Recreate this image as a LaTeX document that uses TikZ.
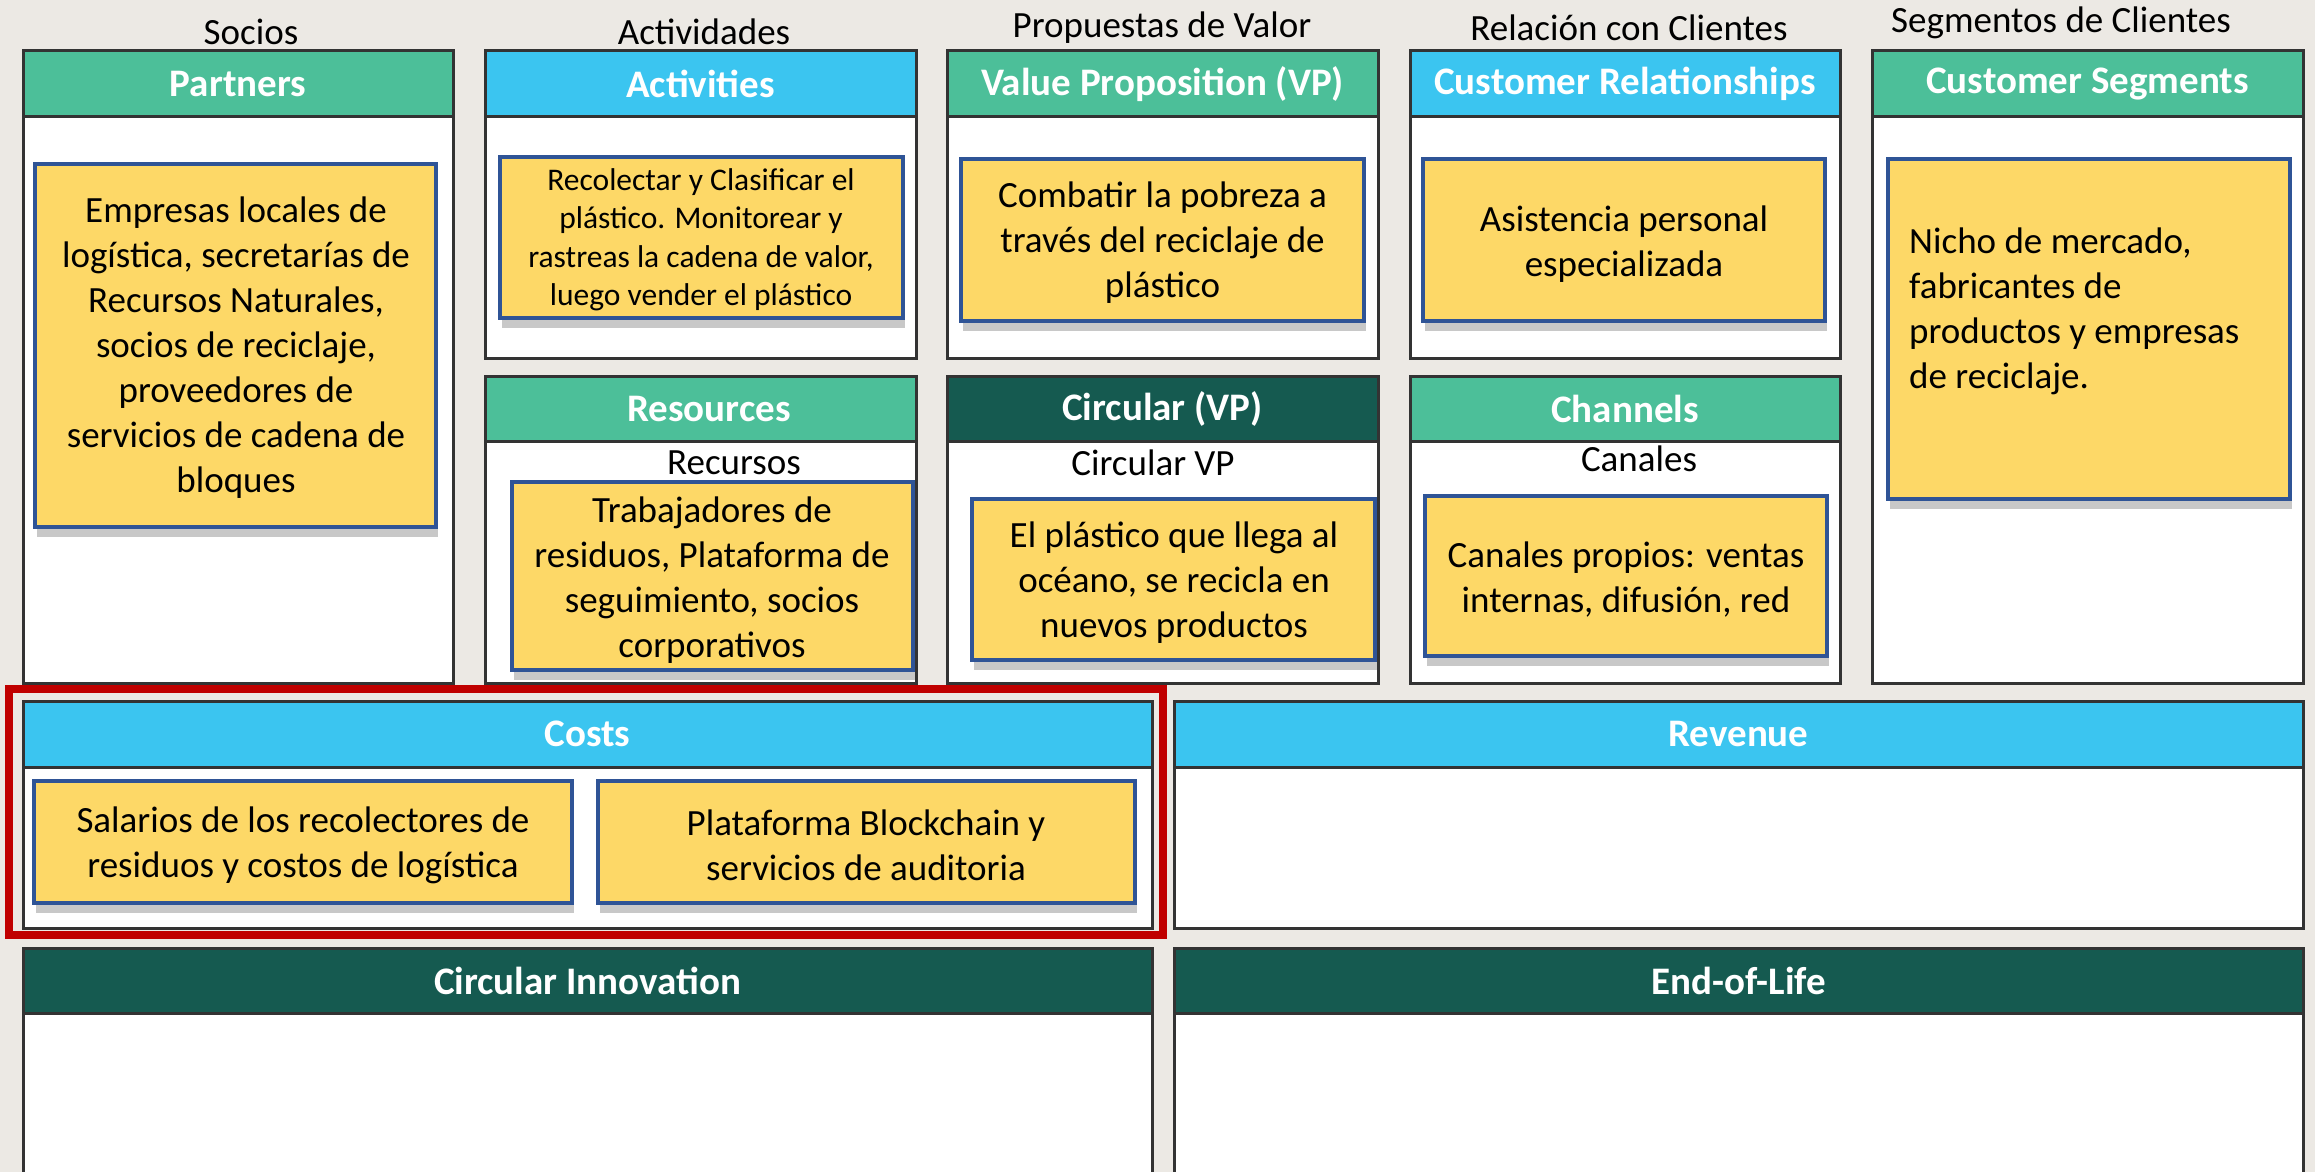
\documentclass[tikz,border=0pt]{standalone}
\usepackage{fontspec}
\setmainfont{Carlito}
\usepackage{tikz}
\usetikzlibrary{shadows}
\definecolor{hdgreen}{HTML}{4CBF99}
\definecolor{hdblue}{HTML}{3BC5F0}
\definecolor{hddark}{HTML}{155A50}
\definecolor{notey}{HTML}{FDD867}
\definecolor{noteb}{HTML}{2F5496}
\definecolor{paper}{HTML}{ECE9E4}
\definecolor{redframe}{HTML}{C00000}

\begin{document}
\begin{tikzpicture}[x=1pt,y=-1pt,
  panel/.style={draw=black!80, line width=3pt, fill=white},
  head/.style={draw=black!80, line width=3pt},
  title/.style={text=white, font=\fontsize{39}{47}\selectfont\bfseries},
  note/.style={draw=noteb, line width=3.5pt, fill=notey,
    drop shadow={shadow xshift=1.5pt, shadow yshift=-10pt, opacity=0.3, fill=black!70}},
  txt/.style={align=center, font=\fontsize{37}{45}\selectfont},
  small/.style={align=center, font=\fontsize{31.5}{38.5}\selectfont},
  lbl/.style={font=\fontsize{37}{45}\selectfont}]
\useasboundingbox (0,0) rectangle (2315,1172);
\clip (0,0) rectangle (2315,1172);
\fill[paper] (0,0) rectangle (2315,1172);

% top labels
\node[lbl] (socios) at (251,32) {Socios};
\node[lbl] (actividades) at (704,32) {Actividades};
\node[lbl] (propuestas) at (1162,28) {Propuestas de Valor};
\node[lbl] (relacion) at (1629,28) {Relación con Clientes};
\node[lbl] (segmentos) at (2061,23) {Segmentos de Clientes};

% partners
\draw[panel] (23,51) rectangle (453,683);
\draw[head, fill=hdgreen] (23,51) rectangle (453,116);
\node[title] (partners) at (238,84) {Partners};
\draw[note] (35,164) rectangle (436,527);
\node[txt] (partnerstxt) at (236,348) {Empresas locales de\\logística, secretarías de\\Recursos Naturales,\\socios de reciclaje,\\proveedores de\\servicios de cadena de\\bloques};

% activities
\draw[panel] (485,51) rectangle (916,358);
\draw[head, fill=hdblue] (485,51) rectangle (916,116);
\node[title] (activities) at (700.5,84) {Activities};
\draw[note] (500,157) rectangle (903,318);
\node[small] (activitiestxt) at (701,240) {Recolectar y Clasificar el\\plástico. Monitorear y\\rastreas la cadena de valor,\\luego vender el plástico};

% resources
\draw[panel] (485,376) rectangle (916,683);
\draw[head, fill=hdgreen] (485,376) rectangle (916,441);
\node[title] (resources) at (709,409) {Resources};
\node[lbl] (recursos) at (734,463) {Recursos};
\draw[note] (512,482) rectangle (913,670);
\node[txt] (resourcestxt) at (712,580) {Trabajadores de\\residuos, Plataforma de\\seguimiento, socios\\corporativos};

% value proposition
\draw[panel] (947,51) rectangle (1378,358);
\draw[head, fill=hdgreen] (947,51) rectangle (1378,116);
\node[title] (vp) at (1162.5,84) {Value Proposition (VP)};
\draw[note] (961,159) rectangle (1364,321);
\node[txt] (vptxt) at (1162.5,243) {Combatir la pobreza a\\través del reciclaje de\\plástico};

% circular vp
\draw[panel] (947,376) rectangle (1378,683);
\draw[head, fill=hddark] (947,376) rectangle (1378,441);
\node[title] (circvp) at (1162.5,409) {Circular (VP)};
\node[lbl] (circvplbl) at (1153,463) {Circular VP};
\draw[note] (972,499) rectangle (1375,660);
\node[txt] (circvptxt) at (1174,583) {El plástico que llega al\\océano, se recicla en\\nuevos productos};

% customer relationships
\draw[panel] (1410,51) rectangle (1840,358);
\draw[head, fill=hdblue] (1410,51) rectangle (1840,116);
\node[title] (cr) at (1625,84) {Customer Relationships};
\draw[note] (1423,159) rectangle (1825,321);
\node[txt] (crtxt) at (1624,244) {Asistencia personal\\especializada};

% channels
\draw[panel] (1410,376) rectangle (1840,683);
\draw[head, fill=hdgreen] (1410,376) rectangle (1840,441);
\node[title] (channels) at (1625,409) {Channels};
\node[lbl] (canales) at (1639,459) {Canales};
\draw[note] (1425,496) rectangle (1827,656);
\node[txt] (channelstxt) at (1626,580) {Canales propios: ventas\\internas, difusión, red};

% customer segments
\draw[panel] (1872,51) rectangle (2303,683);
\draw[head, fill=hdgreen] (1872,51) rectangle (2303,116);
\node[title] (cs) at (2087.5,84) {Customer Segments};
\draw[note] (1888,159) rectangle (2290,499);
\node[lbl, align=left, anchor=west, inner sep=0pt] (cstxt) at (1909,311) {Nicho de mercado,\\fabricantes de\\productos y empresas\\de reciclaje.};

% costs and revenue
\draw[panel] (23,701) rectangle (1152,928);
\draw[head, fill=hdblue] (23,701) rectangle (1152,767);
\node[title] (costs) at (587.5,734) {Costs};
\draw[note] (34,781) rectangle (572,903);
\node[txt] (coststxta) at (303,845) {Salarios de los recolectores de\\residuos y costos de logística};
\draw[note] (598,781) rectangle (1135,903);
\node[txt] (coststxtb) at (866,845) {Plataforma Blockchain y\\servicios de auditoria};
\draw[redframe, line width=8pt] (9,689) rectangle (1163,935);

\draw[panel] (1174,701) rectangle (2303,928);
\draw[head, fill=hdblue] (1174,701) rectangle (2303,767);
\node[title] (revenue) at (1738.5,734) {Revenue};

% circular innovation and end of life
\draw[panel] (23,948) rectangle (1152,1190);
\draw[head, fill=hddark] (23,948) rectangle (1152,1013);
\node[title] (circinno) at (587.5,981) {Circular Innovation};
\draw[panel] (1174,948) rectangle (2303,1190);
\draw[head, fill=hddark] (1174,948) rectangle (2303,1013);
\node[title] (endoflife) at (1738.5,981) {End-of-Life};

\end{tikzpicture}
\end{document}
